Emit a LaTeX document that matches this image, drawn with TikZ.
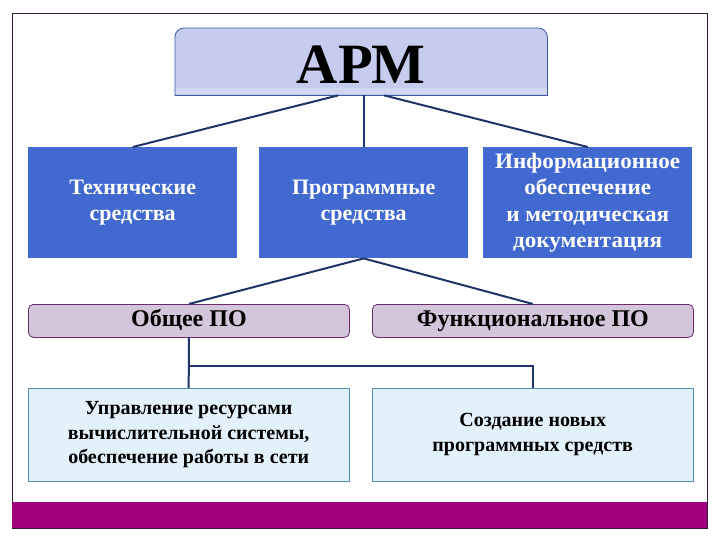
\documentclass[tikz,border=0pt]{standalone}
\usepackage{fontspec}
\setmainfont{Liberation Serif}
\newfontfamily\wideserif{Liberation Serif}[FakeStretch=1.05]
\usetikzlibrary{calc}

\definecolor{frameline}{HTML}{3A1A3A}
\definecolor{armfill}{HTML}{C5CCEE}
\definecolor{armline}{HTML}{3B5BA5}
\definecolor{bluefill}{HTML}{4169CF}
\definecolor{pinkfill}{HTML}{D4C6DA}
\definecolor{pinkline}{HTML}{6A2C6A}
\definecolor{palefill}{HTML}{E3F1FA}
\definecolor{paleline}{HTML}{4F8FB8}
\definecolor{barfill}{HTML}{9E007E}
\definecolor{linkline}{HTML}{1F3468}

\tikzset{
    mainbox/.style={anchor=north west, inner sep=0pt, align=center},
    bluebox/.style={mainbox, fill=bluefill, text=white, minimum width=209pt, minimum height=111pt,
        font=\fontsize{22}{26.5}\selectfont\bfseries},
    pinkbox/.style={mainbox, fill=pinkfill, draw=pinkline, thick, rounded corners=5pt,
        minimum width=321pt, minimum height=33pt, text height=16pt, text depth=5pt,
        font=\fontsize{24}{28}\selectfont\bfseries},
    palebox/.style={mainbox, fill=palefill, draw=paleline, minimum width=321pt, minimum height=93pt,
        font=\fontsize{20}{24.5}\selectfont\bfseries},
    link/.style={draw=linkline, line width=2pt}
}

\begin{document}
\begin{tikzpicture}[x=1pt, y=-1pt]

    \useasboundingbox (0,0) rectangle (720,540);

    % Frame and bottom bar
    \draw[frameline, thick] (12,13) rectangle (707,528);
    \fill[barfill] (12,502) rectangle (707,528);

    % Top box
    \node[mainbox, minimum width=372pt, minimum height=67pt] (arm) at (175,28) {};
    \fill[armfill] (arm.south west) [rounded corners=9pt] -- (arm.north west) -- (arm.north east)
        [sharp corners] -- (arm.south east) -- cycle;
    \fill[armfill!80!white] ($(arm.south west)+(0,-7)$) rectangle (arm.south east);
    \draw[armline, thick] (arm.south west) [rounded corners=9pt] -- (arm.north west) -- (arm.north east)
        [sharp corners] -- (arm.south east) -- cycle;
    \node[font=\fontsize{57}{60}\selectfont\bfseries] (armtext) at ($(arm.center)+(0,3)$) {АРМ};

    % Second row
    \node[bluebox] (tech) at (28,147) {Технические\\средства};
    \node[bluebox] (prog) at (259,147) {Программные\\средства};
    \node[bluebox, font=\fontsize{22}{26.5}\selectfont\wideserif\bfseries] (info) at (483,147)
        {Информационное\\обеспечение\\и методическая\\документация};

    % Third row
    \node[pinkbox] (gen) at (28,304) {Общее ПО};
    \node[pinkbox] (func) at (372,304) {Функциональное ПО};

    % Fourth row
    \node[palebox] (mgmt) at (28,388) {Управление ресурсами\\вычислительной системы,\\обеспечение работы в сети};
    \node[palebox] (newsw) at (372,388) {Создание новых\\программных средств};

    % Links
    \draw[link] ($(arm.south)+(-23,0)$) -- (tech.north);
    \draw[link] (prog.north |- arm.south) -- (prog.north);
    \draw[link] ($(arm.south)+(23,0)$) -- (info.north);
    \draw[link] (prog.south) -- (gen.north);
    \draw[link] (prog.south) -- (func.north);
    \draw[link] (gen.south) -- (mgmt.north);
    \draw[link] (gen.south) -- ++(0,28) -| (newsw.north);

\end{tikzpicture}
\end{document}
